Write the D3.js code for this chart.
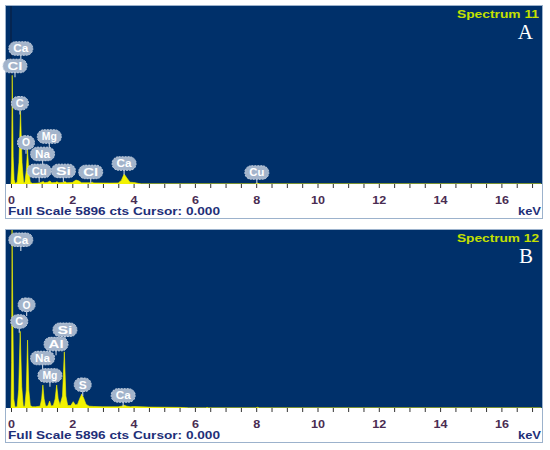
<!DOCTYPE html>
<html><head><meta charset="utf-8">
<script src="https://cdn.jsdelivr.net/npm/d3@7"></script>
<style>body{margin:0;background:#fff}svg{display:block}</style>
</head><body>
<svg id="c" width="550" height="450"></svg>
<script>
// ---- data ----
const fullScale = 5896;
const xTickValues = [0,2,4,6,8,10,12,14,16];
const titles = ["Spectrum 11", "Spectrum 12"];
const letters = ["A", "B"];

// spectrum A: [keV, counts]
const specA = [
 [0,0],[0.02,600],[0.04,3600],[0.07,900],[0.10,150],[0.14,20],
 [0.20,60],[0.26,700],[0.31,2420],[0.36,700],[0.41,60],
 [0.45,40],[0.50,450],[0.54,1150],[0.58,400],[0.63,60],[0.70,20],
 [0.85,25],[0.95,40],[1.02,70],[1.05,80],[1.10,40],[1.20,60],[1.27,100],[1.33,40],
 [1.45,50],[1.50,75],[1.56,40],[1.70,50],[1.76,80],[1.82,40],[2.00,50],[2.12,130],
 [2.22,100],[2.30,40],[2.60,40],[2.65,60],[2.70,35],[3.20,30],[3.50,35],[3.60,120],
 [3.69,330],[3.78,200],[3.88,60],[4.00,50],[4.05,45],[4.15,20],[4.25,0],
 [7.95,0],[8.04,30],[8.12,0],[17.3,0]
];
// spectrum B
const specB = [
 [0,0],[0.02,1500],[0.035,5896],[0.06,3000],[0.09,300],[0.13,30],
 [0.20,40],[0.25,600],[0.30,2540],[0.35,700],[0.40,60],
 [0.45,50],[0.50,600],[0.54,2250],[0.58,600],[0.63,80],[0.70,40],
 [0.80,40],[0.95,60],[1.00,300],[1.04,760],[1.08,300],[1.13,60],[1.20,70],[1.26,230],
 [1.31,70],[1.38,80],[1.44,300],[1.49,760],[1.54,300],[1.60,100],[1.68,400],[1.74,1860],
 [1.79,400],[1.85,80],[1.95,80],[2.03,210],[2.10,100],[2.17,120],[2.25,330],[2.31,460],
 [2.37,330],[2.45,120],[2.55,60],[2.70,50],[3.00,40],[3.50,40],[3.60,60],[3.69,90],
 [3.78,60],[3.90,40],[4.00,50],[4.50,30],[5.00,25],[5.50,20],[5.70,10],[5.80,0],
 [6.35,0],[6.40,20],[6.45,0],[7.98,0],[8.04,25],[8.10,0],[17.3,0]
];

// peak labels: element, energy (keV), marker height (counts)
const labelNamesA = ["Ca","Cl","C","O","Mg","Na","Cu","Si","Cl","Ca","Cu"];
const labelKevA   = [0.32,0.13,0.29,0.49,1.25,1.03,0.92,1.71,2.60,3.69,8.02];
const labelCtsA   = [4114,3537,2302,1000,1199,623,60,60,26,305,7];

const labelNamesB = ["Ca","O","C","Si","Al","Na","Mg","S","Ca"];
const labelKevB   = [0.32,0.51,0.27,1.76,1.47,1.03,1.27,2.34,3.66];
const labelCtsB   = [5200,3047,2494,2219,1745,1282,705,397,43];

// ---- drawing ----
const svg = d3.select("#c");
const FONT = "'Liberation Sans', Arial, sans-serif";
const x = d3.scaleLinear().domain([0,16]).range([11, 501.4]);

function panel(top, spec, names, kevs, cts, title, letter){
  const plotTop = top + 1, base = top + 179;
  const y = d3.scaleLinear().domain([0, fullScale]).range([base, plotTop]);
  const g = svg.append("g");
  // frame
  g.append("rect").attr("x",5.5).attr("y",top+0.5).attr("width",537).attr("height",213)
    .attr("fill","#fff").attr("stroke","#9cb2cc").attr("stroke-width",1);
  g.append("rect").attr("x",6).attr("y",plotTop).attr("width",536).attr("height",base-plotTop)
    .attr("fill","#00306a");
  // cursor line
  g.append("line").attr("x1",x(0)).attr("x2",x(0)).attr("y1",plotTop).attr("y2",base)
    .attr("stroke","#0a1a38").attr("stroke-width",1);
  // spectrum
  const clipId = "clip"+top;
  g.append("clipPath").attr("id",clipId).append("rect")
    .attr("x",6).attr("y",plotTop).attr("width",536).attr("height",base-plotTop);
  const area = d3.area().x(d=>x(d[0])).y0(base).y1(d=>y(d[1]));
  g.append("path").datum(spec).attr("d",area).attr("fill","#f2f200")
    .attr("stroke","#f2f200").attr("stroke-width",0.6).attr("clip-path",`url(#${clipId})`);
  // axis
  const ticks = d3.range(0, 17.01, 0.5);
  const ax = d3.axisBottom(x).tickValues(ticks).tickSize(4).tickPadding(8)
    .tickFormat(d => xTickValues.includes(d) ? String(d) : "");
  const axg = g.append("g").attr("transform",`translate(0,${base})`).call(ax);
  axg.select(".domain").remove();
  axg.selectAll(".tick line").attr("stroke","#333").attr("stroke-width",1);
  axg.selectAll(".tick text").attr("fill","#4a2c52").attr("font-family",FONT)
    .attr("font-weight","bold").attr("font-size",11)
    .each(function(d){
      const t = d3.select(this);
      if (xTickValues.includes(d)) {
        t.attr("textLength", String(d).length > 1 ? 14 : 7).attr("lengthAdjust","spacingAndGlyphs");
      }
    });
  // bottom text
  g.append("text").attr("x",8).attr("y",top+210).attr("font-family",FONT).attr("font-size",11)
    .attr("font-weight","bold").attr("fill","#1e2f78")
    .attr("textLength",212).attr("lengthAdjust","spacingAndGlyphs")
    .text("Full Scale 5896 cts Cursor: 0.000");
  g.append("text").attr("x",541).attr("y",top+210).attr("text-anchor","end").attr("font-family",FONT)
    .attr("font-size",11).attr("font-weight","bold").attr("fill","#1e2f78")
    .attr("textLength",23).attr("lengthAdjust","spacingAndGlyphs").text("keV");
  // title
  g.append("text").attr("x",539).attr("y",top+13).attr("text-anchor","end").attr("font-family",FONT)
    .attr("font-size",10.5).attr("font-weight","bold").attr("fill","#c4e000")
    .attr("textLength",82).attr("lengthAdjust","spacingAndGlyphs").text(title);
  g.append("text").attr("x",533).attr("y",top+34).attr("text-anchor","end")
    .attr("font-family","'Liberation Serif','Times New Roman',serif")
    .attr("font-size",21).attr("fill","#fff").text(letter);
  // peak labels
  names.forEach((n,i)=>{
    const px = x(kevs[i]), py = y(cts[i]);
    const tl = n.length > 1 ? 15 : 8;
    const bw = tl + 9;
    const lg = g.append("g");
    lg.append("line").attr("x1",px).attr("x2",px).attr("y1",py-5).attr("y2",py)
      .attr("stroke","#b8c6d8").attr("stroke-width",1.2);
    lg.append("rect").attr("x",px-bw/2).attr("y",py-18).attr("width",bw).attr("height",13.5)
      .attr("rx",6.5).attr("ry",6.5).attr("fill","#a3b4cb").attr("stroke","#c3cfdf")
      .attr("stroke-width",1).attr("stroke-dasharray","2,1");
    lg.append("text").attr("x",px).attr("y",py-7.5).attr("text-anchor","middle")
      .attr("font-family",FONT).attr("font-size",10).attr("font-weight","bold")
      .attr("textLength",tl).attr("lengthAdjust","spacingAndGlyphs")
      .attr("fill","#fff").text(n);
  });
}

panel(5, specA, labelNamesA, labelKevA, labelCtsA, titles[0], letters[0]);
panel(229, specB, labelNamesB, labelKevB, labelCtsB, titles[1], letters[1]);
</script>
</body></html>
